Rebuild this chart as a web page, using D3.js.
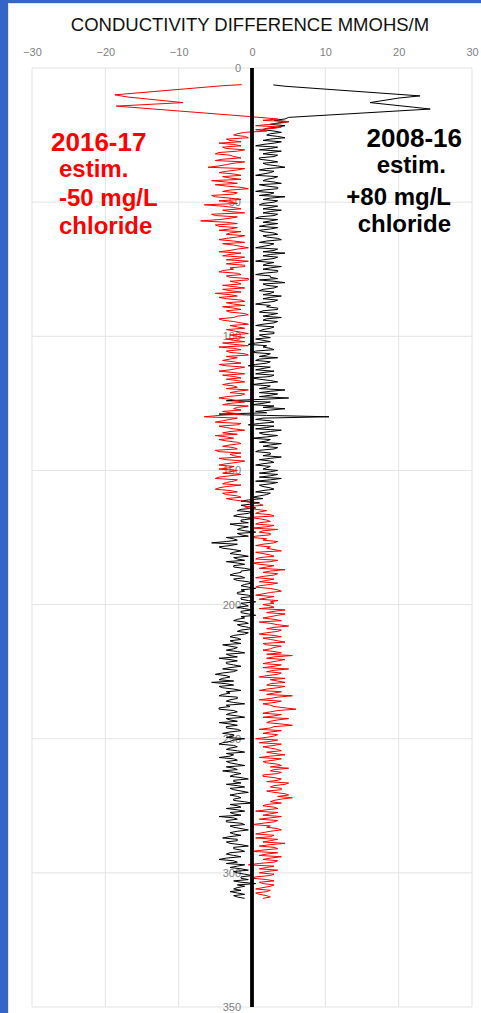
<!DOCTYPE html>
<html>
<head>
<meta charset="utf-8">
<script src="https://cdn.jsdelivr.net/npm/d3@7"></script>
<style>
  html, body { margin: 0; padding: 0; background: #3565c6; }
  svg { display: block; }
  text { font-family: "Liberation Sans", Arial, sans-serif; }
</style>
</head>
<body>
<svg></svg>
<script>
var width = 481;
var height = 1013;

var xTicks = [-30, -20, -10, 0, 10, 20, 30];
var depthTicks = [0, 50, 100, 150, 200, 250, 300, 350];

// top excursion, read point by point
var redTopDepth = [6.2, 6.6, 10.0, 10.8, 12.9, 14.2, 18.1];
var redTopValue = [-1.4, -4, -18.7, -17, -9.4, -18.5, -0.3];
var blackTopDepth = [6.3, 6.8, 10.4, 11.2, 12.9, 14.6, 15.3, 18.4];
var blackTopValue = [2.9, 4.5, 22.9, 20, 16.1, 22, 24.3, 5];

// log from depth 19 to 309: readings at whole units and at half units
var logStart = 19;
var red1617 = [
  3.5, 5, 2.5, 4, 0.5, -1, -2.5, -0.5, -3, -4.5,
  -1.5, -3.5, -2, -5, -2.5, -4, -1, -3.5, -6, -2,
  -4.5, -1.5, -3, -5.5, -2, -3.5, -0.5, -4, -2.5, -5,
  -1.5, -3, -6.5, -2.5, -4, -1, -5, -3, -7, -2,
  -4.5, -3, -1.5, -3.5, -2, -4.5, -1, -2.5, -0.5, -3,
  -1.5, -4, -2, -0.5, -3.5, -1, -2.5, -4.5, -1.5, -3,
  -0.5, -2, -4, -1, -3, -5, -2, -3.5, -1, -2.5,
  -4, -1.5, -3, -0.5, -2.5, -4, -1.5, -3, -1, -2.5,
  -0.5, -2, -3.5, -1, -2.5, -4.5, -1.5, -3, -0.5, -2,
  -4, -1.5, -3.5, -2, -4.5, -1, -2.5, -3.5, -1, -4,
  -2, -0.5, -3, -1.5, -4.5, -2, -3, -0.5, -2.5, -4,
  -1.5, -6.5, -3, -5, -2, -3.5, -1, -4, -5, -2.5,
  -3.5, -1.5, -4, -2, -4.5, -3, -1.5, -3.5, -2, -4.5,
  -3, -2, -4, -3, -5, -2.5, -4, -3.5, -5, -2,
  -3.5, -1.5, -2.5, 0, 1.5, -0.5, 2, 0.5, 3, 1,
  2.5, 0.5, 2, 3.5, 1, 2.5, 0, 1.5, 3, 0.5,
  2, 4, 1.5, 3, 0.5, 2.5, 1, 2, 4.5, 1.5,
  3, 0.5, 2, 3.5, 1, 2.5, 4, 1.5, 3, 1,
  2.5, 1.5, 3, 4.5, 2, 3.5, 1.5, 4, 2.5, 5,
  2, 3.5, 1, 4, 2.5, 4.5, 2, 3, 1.5, 4,
  5.5, 2, 3.5, 1.5, 3, 5, 2, 3.5, 1, 2.5,
  4.5, 2, 3.5, 1, 3, 5.5, 2.5, 4, 1.5, 3,
  6, 2.5, 4, 1.5, 3.5, 2, 5.5, 2.5, 4, 1.5,
  3, 0.5, 2.5, 4, 1.5, 3.5, 2, 4.5, 1, 3,
  2, 4, 5, 2.5, 3.5, 1.5, 4, 2, 4.5, 2.5,
  4, 3, 5, 5.5, 3, 4, 1.5, 3.5, 0.5, 2.5,
  4, 1, 3, 0, 2, 4, 1.5, 3, 0.5, 2.5,
  4.5, 1, 3.5, 0, 2, 4, 1.5, 3, -0.5, 2,
  3.5, 1, 2.5, 0, 3, 1.5, 2.5, 0.5, 2, 1,
  2.5
];
var red1617Half = [
  1.5, 4, 0.5, 3, 2, -2, -1, -3.5, -1.5, -2.5,
  -4, -1, -4.5, -3, -1.5, -5, -2.5, -4.5, -1, -3.5,
  -2.5, -4, -1.5, -3.5, -5, -1.5, -3, -2, -5.5, -3,
  -4.5, -2, -4, -1.5, -3, -5.5, -2, -4.5, -3.5, -5,
  -2, -4.5, -3, -1, -3.5, -2.5, -4, -1.5, -2, -4.5,
  -3, -1, -3.5, -2, -1, -3, -4, -2, -3.5, -0.5,
  -3, -1.5, -2.5, -4, -1.5, -3, -4.5, -1.5, -3.5, -1,
  -2.5, -3.5, -1, -2, -4.5, -2.5, -0.5, -2, -3.5, -1.5,
  -3, -1, -2.5, -4, -0.5, -2.5, -3.5, -1, -3.5, -3,
  -2.5, -4.5, -1, -3, -2.5, -4, -1.5, -2, -3, -2.5,
  -3.5, -2, -1, -3.5, -3, -1, -4, -2, -1.5, -3,
  -4.5, -2, -4, -1.5, -4.5, -2.5, -3, -2, -3.5, -4.5,
  -2, -3, -2.5, -5, -1.5, -2.5, -4.5, -1, -3.5, -2.5,
  -4.5, -3, -1.5, -4.5, -2, -3.5, -1.5, -4.5, -3, -4,
  -2, -3.5, -1, 1, -1, 0.5, 1, 2.5, -0.5, 2,
  1, 3, 0, 1.5, 2.5, 0.5, 2, 3.5, 1.5, 2.5,
  3, 0.5, 2.5, 1, 3.5, 0, 3, 1, 2.5, 3.5,
  1.5, 3, 1, 2.5, 0.5, 3.5, 2.5, 0.5, 2, 3.5,
  3, 2.5, 1, 3, 4.5, 2.5, 3, 1, 3.5, 3,
  4, 2, 3, 1.5, 3.5, 1.5, 4, 2.5, 3, 2,
  3, 4.5, 2.5, 4, 1.5, 3, 4, 2, 4.5, 3.5,
  2.5, 4.5, 2, 4, 2, 3.5, 1, 3, 2.5, 4.5,
  3.5, 1.5, 3, 5, 2.5, 4, 3, 1, 2.5, 3.5,
  2, 3.5, 1, 3, 2.5, 4, 3, 2.5, 4, 1.5,
  3.5, 2.5, 3, 4, 1.5, 3, 3.5, 5, 3, 4,
  2, 4.5, 3.5, 4, 2.5, 2, 3, 2, 3.5, 1.5,
  2.5, 3.5, 1.5, 2.5, 3.5, 2.5, 0.5, 2.5, 3.5, 1.5,
  2.5, 3, 1.5, 3.5, 1, 2.5, 3.5, 1, 3, 1,
  2, 3, 0.5, 2, 1, 3, 1.5, 2.5, 0.5, 2,
  1.5
];
var black0816 = [
  4.5, 5, 2.5, 3.5, 1.5, 4, 2, 4.5, 1.5, 3,
  0.5, 2.5, 4, 1.5, 3, 1, 3.5, 2, 4.5, 1,
  2.5, 0.5, 3, 1.5, 4, 2, 3.5, 0.5, 2.5, 4.5,
  1.5, 3, 1, 2.5, 4, 1.5, 3, 0.5, 2.5, 3.5,
  1, 2.5, 1.5, 3.5, 2, 4, 1, 2.5, 0.5, 3,
  4.5, 1.5, 3, 0.5, 2, 4, 1.5, 3.5, 0.5, 2.5,
  1, 4.5, 2, 3, 1, 2.5, 4, 1.5, 3, 0.5,
  2, 3.5, 1, 2.5, 4, 1.5, 3, 0.5, 2.5, 1,
  3, 1.5, 0.5, 2.5, -0.5, 1.5, 3, 0, 2, 3.5,
  0.5, 2, -0.5, 1.5, 3, 0.5, 2.5, 1, 3.5, 0,
  2, 4.5, 1, 2.5, 5, -3.5, 1.5, 3, 4.5, 0.5,
  -4.5, 10.5, 0.5, 3, -0.5, 2, 4, 1, 3.5, 0,
  2, 4, 1.5, 3, 0.5, 2.5, 4, 1, 3, 0.5,
  2, 3.5, 1, 2.5, 4, 0.5, 2.5, 1.5, 3, 0.5,
  2, 0, -0.5, 1, -1.5, 0.5, -2, -0.5, -2.5, 0,
  -1.5, -3, -0.5, -2, 0.5, -1.5, -3.5, -2, -5.5, -3,
  -4, -1.5, -3, -0.5, -2, -3.5, -1, -2.5, 0, -1.5,
  -3, -1, -2, 0, -1.5, 0.5, -1, -2, 0, -1.5,
  0.5, -1, -2, 0, -1.5, 0.5, -1, -2.5, -0.5, -1.5,
  0, -2, -1, -3, -1.5, -2.5, -4, -2, -3.5, -1,
  -3, -4.5, -2, -3.5, -1.5, -4, -2.5, -5, -3, -4.5,
  -5.5, -2.5, -4, -1.5, -3, -4.5, -2, -3.5, -1, -3,
  -4.5, -2, -3.5, -1, -3, -4.5, -2, -3.5, -1.5, -4,
  -2.5, -1, -3, -4.5, -2, -3.5, -1, -2.5, -4.5, -2,
  -3, -1, -2.5, -4, -1.5, -3, -0.5, -2.5, -3.5, -1,
  -2.5, -0.5, -3, -1.5, -2.5, 0, -2, -3.5, -1, -2.5,
  -4.5, -2, -3.5, -1, -2.5, -0.5, -3, -1.5, -4, -2,
  -3, -0.5, -2.5, -1, -3.5, -1.5, -4.5, -2, -1, -3,
  -0.5, -2, 0, -1.5, -2.5, 0.5, -1, -2.5, -3, -1,
  -2
];
var black0816Half = [
  3, 3.5, 4.5, 2, 3, 2.5, 3.5, 2.5, 4, 1.5,
  3.5, 1, 2.5, 3.5, 1, 2.5, 1.5, 3.5, 2, 3,
  1.5, 3.5, 2, 3, 1, 3.5, 1.5, 3, 1, 2.5,
  3.5, 1.5, 3.5, 1.5, 2.5, 3.5, 1, 3.5, 1.5, 2,
  3.5, 1, 3, 1.5, 3.5, 2, 3, 1.5, 3.5, 1.5,
  2.5, 3.5, 1.5, 3, 1.5, 2.5, 3.5, 1.5, 2.5, 3.5,
  3, 1.5, 3.5, 1.5, 3, 1.5, 2.5, 3.5, 1.5, 2.5,
  3.5, 1.5, 3.5, 1.5, 2, 3.5, 1.5, 3, 1.5, 3,
  1, 2.5, 1.5, 0.5, 2, 2.5, 0.5, 2.5, 1, 1,
  2.5, 0.5, 2.5, 0.5, 1.5, 3, 0, 2.5, 1.5, 2.5,
  1, 2.5, 3.5, 1, 1.5, 2.5, 0, 1.5, 2.5, 2,
  2, 1.5, 2.5, 1, 3, 0.5, 2.5, 1.5, 2, 2.5,
  1, 2.5, 3.5, 1, 2.5, 1.5, 2.5, 2.5, 1.5, 2.5,
  1.5, 2.5, 3.5, 1, 2.5, 3.5, 1, 2.5, 1.5, 2.5,
  1, 1.5, -1.5, 0, -0.5, -1.5, 0, -2, -1, -1.5,
  -0.5, -2, -1.5, -1, -2, -0.5, -2.5, -3.5, -2, -4.5,
  -2.5, -2.5, -1.5, -2.5, -1, -2, -2.5, -1, -1.5, -2.5,
  -1.5, -2.5, -0.5, -1, -0.5, -1.5, -2, -0.5, -1.5, -0.5,
  -1.5, -0.5, -1, -1.5, -0.5, -1.5, -2, -1, -2, -0.5,
  -1.5, -0.5, -2.5, -2, -3, -1.5, -3, -2.5, -2, -3.5,
  -2, -3, -3.5, -2.5, -3, -2, -4, -3.5, -4, -2.5,
  -3.5, -4.5, -2.5, -3.5, -4, -2, -3, -2.5, -3.5, -4.5,
  -2.5, -3, -2, -3.5, -2, -3, -3.5, -2, -3, -2.5,
  -3.5, -2.5, -4, -2.5, -3, -2, -3.5, -3, -2.5, -3.5,
  -2, -3.5, -2, -2.5, -2.5, -1.5, -2.5, -1.5, -2, -3,
  -1.5, -2, -2, -2.5, -1, -3, -1.5, -2, -3, -1.5,
  -2.5, -3.5, -1.5, -3, -1.5, -2, -2.5, -3, -2, -3.5,
  -1.5, -2.5, -1.5, -3, -2.5, -3.5, -2.5, -3.5, -2, -1.5,
  -2.5, -1, -1.5, -0.5, -1.5, -2, -2, -1.5, -2, -2.5,
  -1
];

function toPoints(topDepth, topValue, whole, half) {
  var pts = topDepth.map((d, i) => ({depth: d, v: topValue[i]}));
  whole.forEach((v, i) => {
    pts.push({depth: logStart + i, v: v});
    if (i < half.length) pts.push({depth: logStart + i + 0.5, v: half[i]});
  });
  return pts;
}
var redPts = toPoints(redTopDepth, redTopValue, red1617, red1617Half);
var blackPts = toPoints(blackTopDepth, blackTopValue, black0816, black0816Half);

var xScale = d3.scaleLinear().domain([-30, 30]).range([32, 472]);
var yScale = d3.scaleLinear().domain([0, 350]).range([68, 1007]);

var svg = d3.select("svg")
    .attr("width", width)
    .attr("height", height);

// white card
svg.append("rect")
    .attr("x", 8.5).attr("y", 3.5)
    .attr("width", width - 8).attr("height", height)
    .attr("fill", "#fff")
    .attr("stroke", "#e4e4e4");

// grid
svg.append("g")
    .selectAll("line")
    .data(xTicks)
    .enter()
    .append("line")
    .attr("x1", d => xScale(d)).attr("x2", d => xScale(d))
    .attr("y1", yScale(0)).attr("y2", yScale(350))
    .attr("stroke", "#e3e3e3");

svg.append("g")
    .selectAll("line")
    .data(depthTicks)
    .enter()
    .append("line")
    .attr("x1", xScale(-30)).attr("x2", xScale(30))
    .attr("y1", d => yScale(d)).attr("y2", d => yScale(d))
    .attr("stroke", "#e3e3e3");

svg.append("text")
    .attr("x", 250)
    .attr("y", 31)
    .style("text-anchor", "middle")
    .style("font-size", "18.5px")
    .attr("fill", "#111")
    .text("CONDUCTIVITY DIFFERENCE MMOHS/M");

var xAxis = d3.axisTop(xScale)
    .tickValues(xTicks)
    .tickSize(0)
    .tickPadding(12);

svg.append("g")
    .attr("class", "x-axis")
    .attr("transform", `translate(0, ${yScale(0)})`)
    .call(xAxis)
    .call(g => g.select(".domain").remove())
    .call(g => g.selectAll("text")
        .style("font-size", "11px")
        .attr("fill", "#808080")
        .style("font-family", "'Liberation Sans', Arial, sans-serif"));

var yAxis = d3.axisLeft(yScale)
    .tickValues(depthTicks)
    .tickSize(0)
    .tickPadding(11);

svg.append("g")
    .attr("class", "y-axis")
    .attr("transform", `translate(${xScale(0)}, 0)`)
    .call(yAxis)
    .call(g => g.select(".domain").remove())
    .call(g => g.selectAll("text")
        .style("font-size", "11px")
        .attr("fill", "#808080")
        .style("font-family", "'Liberation Sans', Arial, sans-serif"));

var line = d3.line()
    .x(d => xScale(d.v))
    .y(d => yScale(d.depth));

svg.append("path")
    .datum(blackPts)
    .attr("d", line)
    .attr("fill", "none")
    .attr("stroke", "#000")
    .attr("stroke-width", 1);

svg.append("path")
    .datum(redPts)
    .attr("d", line)
    .attr("fill", "none")
    .attr("stroke", "#ff0000")
    .attr("stroke-width", 1);

// zero axis
svg.append("line")
    .attr("x1", xScale(0)).attr("x2", xScale(0))
    .attr("y1", yScale(0)).attr("y2", yScale(350))
    .attr("stroke", "#000")
    .attr("stroke-width", 3.8);

// annotations
var redNotes = [
  {t: "2016-17", x: 51, y: 151, size: 26},
  {t: "estim.", x: 59, y: 177, size: 24},
  {t: "-50 mg/L", x: 59, y: 206, size: 24},
  {t: "chloride", x: 59, y: 234, size: 24}
];
var blackNotes = [
  {t: "2008-16", x: 462, y: 147, size: 26},
  {t: "estim.", x: 446, y: 173, size: 24},
  {t: "+80 mg/L", x: 451, y: 205, size: 24},
  {t: "chloride", x: 451, y: 232, size: 24}
];

svg.selectAll(".rnote")
    .data(redNotes)
    .enter()
    .append("text")
    .attr("x", d => d.x).attr("y", d => d.y)
    .style("font-size", d => d.size + "px")
    .style("font-weight", "bold")
    .attr("fill", "#ff0000")
    .text(d => d.t);

svg.selectAll(".bnote")
    .data(blackNotes)
    .enter()
    .append("text")
    .attr("x", d => d.x).attr("y", d => d.y)
    .style("text-anchor", "end")
    .style("font-size", d => d.size + "px")
    .style("font-weight", "bold")
    .attr("fill", "#000")
    .text(d => d.t);
</script>
</body>
</html>
